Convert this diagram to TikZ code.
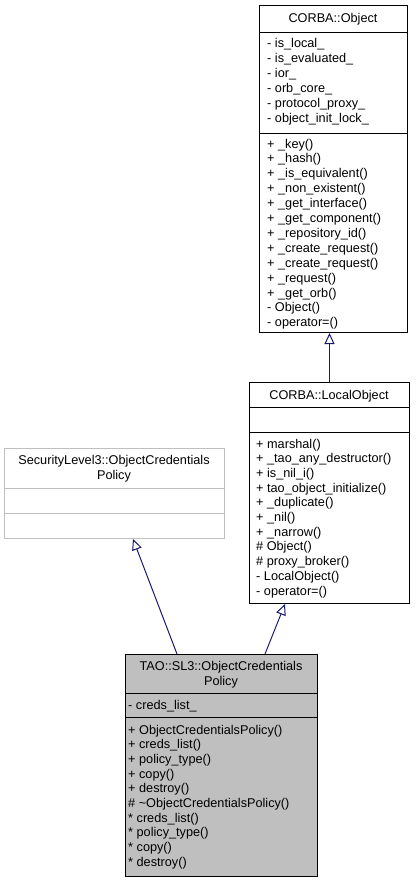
\documentclass[tikz,border=0pt]{standalone}
\usepackage{fontspec}
\setmainfont{Liberation Sans}
\usetikzlibrary{arrows.meta,calc}
\definecolor{edgeblue}{HTML}{191970}
\definecolor{boxgray}{HTML}{BFBFBF}
\tikzset{
  classbox/.style={draw=black, line width=1pt, inner sep=0pt, anchor=north west},
  txt/.style={inner sep=0pt, font=\fontsize{12.7}{15}\selectfont},
  member/.style={txt, anchor=base west},
  classname/.style={txt, anchor=base},
  inherit/.style={draw=edgeblue, line width=1pt, -{Triangle[open, length=11pt, width=10pt, fill=white]}},
}
\def\members(#1,#2)#3#4#5{\foreach \m [count=\i from 0] in {#5} \node[member] (#4\i) at (#1,{#2+\i*#3}) {\m};}

\begin{document}
\begin{tikzpicture}[x=1pt,y=-1pt]
		\useasboundingbox (0,0) rectangle (415,883);
		%%%%% CORBA::Object %%%%%
		\node[classbox, minimum width=148pt, minimum height=327pt] (object) at (259,5) {};
		\draw (259,32) -- (407,32);
		\draw (259,133) -- (407,133);
		\node[classname] (objectname) at (333,23) {CORBA::Object};
		\members(267,47.5){15}{objectattr}{- is\_local\_,%
			- is\_evaluated\_,%
			- ior\_,%
			- orb\_core\_,%
			- protocol\_proxy\_,%
			- object\_init\_lock\_}
		\members(267,148){14.9}{objectop}{+ \_key(),%
			+ \_hash(),%
			+ \_is\_equivalent(),%
			+ \_non\_existent(),%
			+ \_get\_interface(),%
			+ \_get\_component(),%
			+ \_repository\_id(),%
			+ \_create\_request(),%
			+ \_create\_request(),%
			+ \_request(),%
			+ \_get\_orb(),%
			- Object(),%
			- operator=()}
		
		%%%%% CORBA::LocalObject %%%%%
		\node[classbox, minimum width=160pt, minimum height=221pt] (localobject) at (249,382) {};
		\draw (249,407) -- (409,407);
		\draw (249,432) -- (409,432);
		\node[classname] (localobjectname) at (329,399) {CORBA::LocalObject};
		\members(256,448){14.7}{localop}{+ marshal(),%
			+ \_tao\_any\_destructor(),%
			+ is\_nil\_i(),%
			+ tao\_object\_initialize(),%
			+ \_duplicate(),%
			+ \_nil(),%
			+ \_narrow(),%
			\# Object(),%
			\# proxy\_broker(),%
			- LocalObject(),%
			- operator=()}
		
		%%%%% SecurityLevel3::ObjectCredentialsPolicy %%%%%
		\node[classbox, draw=boxgray, minimum width=220pt, minimum height=90pt] (sl3) at (4,448) {};
		\draw[boxgray, line width=1pt] (4,488) -- (224,488);
		\draw[boxgray, line width=1pt] (4,513) -- (224,513);
		\node[classname] (sl3name) at (114,464) {SecurityLevel3::ObjectCredentials};
		\node[classname] (sl3name2) at (114,479) {Policy};
		
		%%%%% TAO::SL3::ObjectCredentialsPolicy %%%%%
		\node[classbox, fill=boxgray, minimum width=192pt, minimum height=222pt] (tao) at (125,654) {};
		\draw (125,693) -- (317,693);
		\draw (125,717) -- (317,717);
		\node[classname] (taoname) at (221,670) {TAO::SL3::ObjectCredentials};
		\node[classname] (taoname2) at (221,685) {Policy};
		\members(128,709){15}{taoattr}{- creds\_list\_}
		\members(128,734){14.7}{taoop}{+ ObjectCredentialsPolicy(),%
			+ creds\_list(),%
			+ policy\_type(),%
			+ copy(),%
			+ destroy(),%
			\# \textasciitilde ObjectCredentialsPolicy(),%
			* creds\_list(),%
			* policy\_type(),%
			* copy(),%
			* destroy()}
		
		%%%%% inheritance %%%%%
		\draw[inherit] (localobject.north) -- (localobject.north |- object.south);
		\draw[inherit] ($(tao.north west)+(52,0)$) -- ($(sl3.south west)+(129,0)$);
		\draw[inherit] ($(tao.north west)+(140,0)$) -- ($(localobject.south west)+(36,0)$);
	\end{tikzpicture}
\end{document}
